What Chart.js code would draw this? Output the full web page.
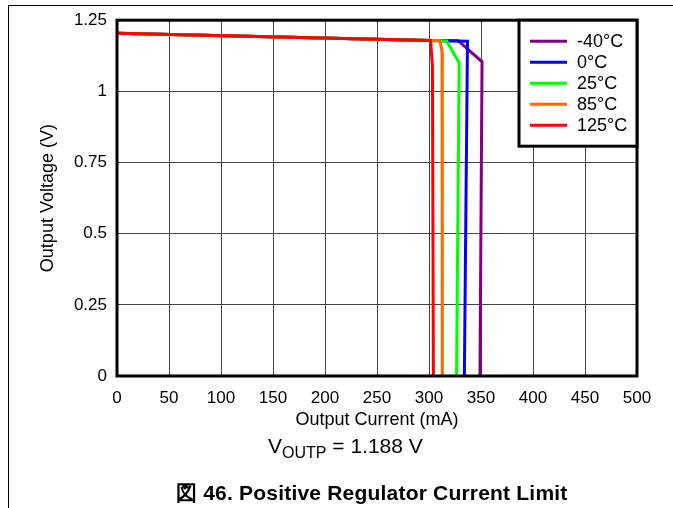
<!DOCTYPE html>
<html>
<head>
<meta charset="utf-8">
<script src="https://cdn.jsdelivr.net/npm/chart.js@4.4.1/dist/chart.umd.min.js"></script>
<style>
  body { margin: 0; background: #fff; font-family: 'Liberation Sans', Arial, sans-serif; }
  #wrap { position: relative; width: 673px; height: 508px; }
  #lineTop { position: absolute; left: 8px; top: 5px; width: 665px; border-top: 1px solid #000; }
  #lineLeft { position: absolute; left: 8px; top: 5px; height: 503px; border-left: 1px solid #000; }
  #vout { position: absolute; left: 268px; top: 434px; font-size: 21px; line-height: 24px; white-space: nowrap; }
  #vout span { font-size: 16px; position: relative; top: 5px; }
  #caption { position: absolute; left: 176px; top: 481px; font-size: 21px; line-height: 24px; font-weight: bold; white-space: nowrap; letter-spacing: 0.2px; }
</style>
</head>
<body>
<div id="wrap">
  <canvas id="chart" width="673" height="508"></canvas>
  <div id="lineTop"></div>
  <div id="lineLeft"></div>
  <div id="vout">V<span>OUTP</span> = 1.188 V</div>
  <div id="caption">図 46. Positive Regulator Current Limit</div>
</div>
<script>
// values
var seriesLabels = ['-40°C', '0°C', '25°C', '85°C', '125°C'];
var seriesColors = ['#800080', '#0000ff', '#00ff00', '#ff6a00', '#ff0000'];

var currentM40 = [0, 300, 328, 351, 349];
var voltageM40 = [1.204, 1.179, 1.178, 1.104, 0];
var current0 = [0, 300, 337, 334];
var voltage0 = [1.204, 1.179, 1.176, 0];
var current25 = [0, 300, 317, 329, 326.5];
var voltage25 = [1.204, 1.179, 1.177, 1.10, 0];
var current85 = [0, 300, 310.5, 312.5, 312.8];
var voltage85 = [1.204, 1.179, 1.178, 1.14, 0];
var current125 = [0, 301.5, 303.3, 304.2];
var voltage125 = [1.204, 1.179, 1.09, 0];

var xTicks = [0, 50, 100, 150, 200, 250, 300, 350, 400, 450, 500];
var yTicks = [0, 0.25, 0.5, 0.75, 1, 1.25];

var currents = [currentM40, current0, current25, current85, current125];
var voltages = [voltageM40, voltage0, voltage25, voltage85, voltage125];

function toPoints(xs, ys) {
    return xs.map(function (x, i) { return { x: x, y: ys[i] }; });
}

var FONT = "'Liberation Sans', Arial, sans-serif";

// frame around plot + legend box like the datasheet
var framePlugin = {
    id: 'frame',
    afterDatasetsDraw: function (chart) {
        var ctx = chart.ctx;
        var a = chart.chartArea;
        ctx.save();
        ctx.strokeStyle = '#000';
        ctx.lineWidth = 3;
        ctx.strokeRect(a.left, a.top, a.right - a.left, a.bottom - a.top);

        var bw = 118, bh = 126;
        var bx = a.right - bw, by = a.top;
        ctx.fillStyle = '#fff';
        ctx.fillRect(bx, by, bw, bh);
        ctx.strokeRect(bx, by, bw, bh);

        ctx.font = '18px ' + FONT;
        ctx.textBaseline = 'middle';
        chart.data.datasets.forEach(function (ds, i) {
            var y = by + 21 + i * 21;
            ctx.strokeStyle = ds.borderColor;
            ctx.lineWidth = 3;
            ctx.beginPath();
            ctx.moveTo(bx + 11, y);
            ctx.lineTo(bx + 48, y);
            ctx.stroke();
            ctx.fillStyle = '#000';
            ctx.fillText(ds.label, bx + 58, y + 1);
        });
        ctx.restore();
    }
};

var chart = new Chart(document.getElementById('chart'), {
    type: 'scatter',
    data: {
        datasets: seriesLabels.map(function (lbl, i) {
            return {
                label: lbl,
                data: toPoints(currents[i], voltages[i]),
                showLine: true,
                borderColor: seriesColors[i],
                backgroundColor: seriesColors[i],
                borderWidth: 3,
                pointRadius: 0,
                tension: 0,
                order: seriesLabels.length - 1 - i   // 125°C ends up on top
            };
        })
    },
    options: {
        responsive: false,
        animation: false,
        layout: { padding: { left: 30, right: 36, top: 19, bottom: 72 } },
        plugins: {
            legend: { display: false },
            tooltip: { enabled: false }
        },
        scales: {
            x: {
                type: 'linear',
                min: 0,
                max: 500,
                afterFit: function (s) { s.height = 60; },
                afterBuildTicks: function (s) { s.ticks = xTicks.map(function (v) { return { value: v }; }); },
                ticks: { color: '#000', padding: 12, font: { family: FONT, size: 17 } },
                grid: { color: '#444', lineWidth: 1, drawTicks: false },
                border: { display: false },
                title: {
                    display: true,
                    text: 'Output Current (mA)',
                    color: '#000',
                    font: { family: FONT, size: 18 },
                    padding: { top: 0, bottom: 5 }
                }
            },
            y: {
                type: 'linear',
                min: 0,
                max: 1.25,
                afterFit: function (s) { s.width = 87; },
                afterBuildTicks: function (s) { s.ticks = yTicks.map(function (v) { return { value: v }; }); },
                ticks: {
                    color: '#000',
                    padding: 10,
                    font: { family: FONT, size: 17 },
                    callback: function (v) { return String(v); }
                },
                grid: { color: '#444', lineWidth: 1, drawTicks: false },
                border: { display: false },
                title: {
                    display: true,
                    text: 'Output Voltage (V)',
                    color: '#000',
                    font: { family: FONT, size: 18 },
                    padding: { top: 7, bottom: 0 }
                }
            }
        }
    },
    plugins: [framePlugin]
});
</script>
</body>
</html>
